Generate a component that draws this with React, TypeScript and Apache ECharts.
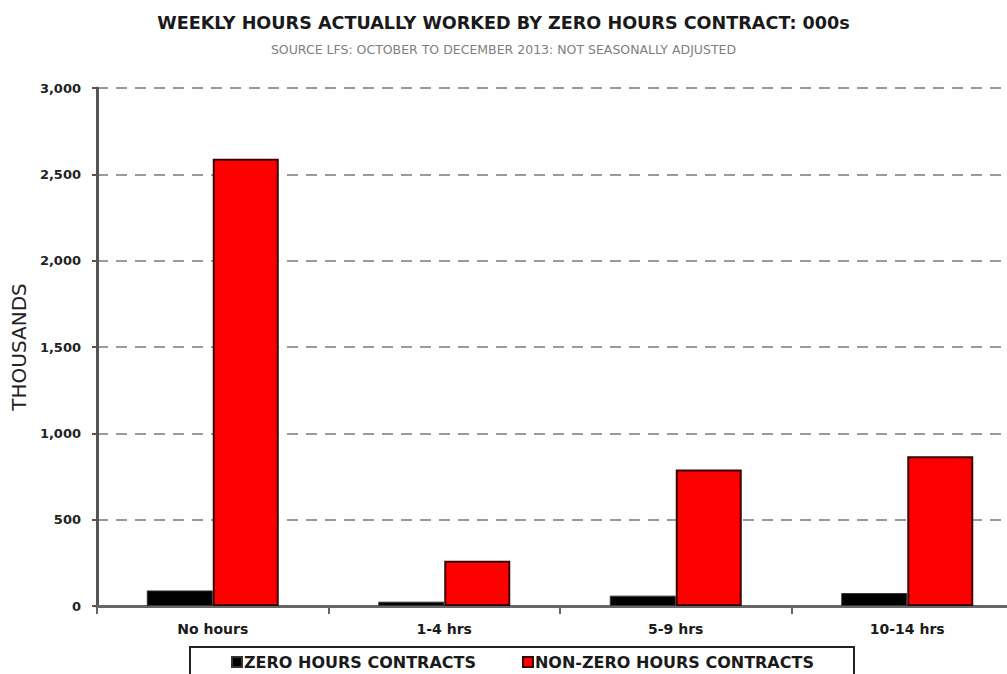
import React, { useEffect, useRef } from "react";
import * as echarts from "echarts";

const categories = ["No hours", "1-4 hrs", "5-9 hrs", "10-14 hrs"];
const zeroHours = [90, 25, 60, 75];
const nonZeroHours = [2590, 262, 790, 868];
const seriesNames = ["ZERO HOURS CONTRACTS", "NON-ZERO HOURS CONTRACTS"];
const titleText = "WEEKLY HOURS ACTUALLY WORKED BY ZERO HOURS CONTRACT: 000s";
const subTitleText = "SOURCE LFS: OCTOBER TO DECEMBER 2013: NOT SEASONALLY ADJUSTED";

export default function App() {
  const ref = useRef<HTMLDivElement>(null);
  useEffect(() => {
    if (!ref.current) return;
    const chart = echarts.init(ref.current, undefined, { renderer: "svg" });
    const font = "DejaVu Sans";
    chart.setOption({
      animation: false,
      backgroundColor: "#ffffff",
      title: {
        text: titleText,
        subtext: subTitleText,
        left: "center",
        top: 9,
        itemGap: 11,
        textStyle: { fontFamily: font, fontSize: 17.6, fontWeight: "bold", color: "#1a1a1a" },
        subtextStyle: { fontFamily: font, fontSize: 12.5, color: "#808080" },
      },
      grid: { left: 97, right: -16, top: 88, bottom: 68, outerBoundsMode: "none" },
      legend: {
        data: seriesNames,
        left: 226,
        top: 649,
        itemWidth: 10,
        itemHeight: 10,
        itemGap: 46,
        icon: "rect",
        textStyle: { fontFamily: font, fontSize: 16, fontWeight: "bold", color: "#1a1a1a", padding: [0, 0, 0, -3] },
      },
      graphic: [
        {
          type: "rect",
          shape: { x: 190, y: 647, width: 664, height: 40 },
          style: { fill: "none", stroke: "#222", lineWidth: 2 },
          silent: true,
          z: -1,
        },
      ],
      xAxis: {
        type: "category",
        data: categories,
        axisLine: { show: true, lineStyle: { color: "#666", width: 3 } },
        axisTick: { show: true, length: 8, lineStyle: { color: "#666", width: 2 } },
        axisLabel: { fontFamily: font, fontSize: 14, fontWeight: "bold", color: "#1a1a1a", margin: 16 },
      },
      yAxis: {
        type: "value",
        min: 0,
        max: 3000,
        interval: 500,
        name: "THOUSANDS",
        nameLocation: "middle",
        nameGap: 66,
        nameTextStyle: { fontFamily: font, fontSize: 20, color: "#222" },
        axisLine: { show: true, lineStyle: { color: "#555", width: 3 } },
        axisTick: { show: true, length: 5, lineStyle: { color: "#555", width: 2 } },
        axisLabel: {
          fontFamily: font,
          fontSize: 13,
          fontWeight: "bold",
          color: "#222",
          margin: 16,
          formatter: (v: number) => v.toLocaleString("en-US"),
        },
        splitLine: { show: true, lineStyle: { color: "#9a9a9a", width: 2, type: [11, 8] } },
      },
      series: [
        {
          name: seriesNames[0],
          type: "bar",
          data: zeroHours,
          barWidth: 66,
          barGap: "0%",
          itemStyle: { color: "#000000", borderColor: "#333", borderWidth: 1 },
        },
        {
          name: seriesNames[1],
          type: "bar",
          data: nonZeroHours,
          barWidth: 66,
          itemStyle: { color: "#ff0000", borderColor: "#3a0000", borderWidth: 2 },
        },
      ],
    });
    return () => chart.dispose();
  }, []);
  return (
    <div style={{ position: "absolute", left: 0, top: 0, width: 1007, height: 674, overflow: "hidden" }}>
      <div ref={ref} style={{ width: 1007, height: 674 }} />
    </div>
  );
}
